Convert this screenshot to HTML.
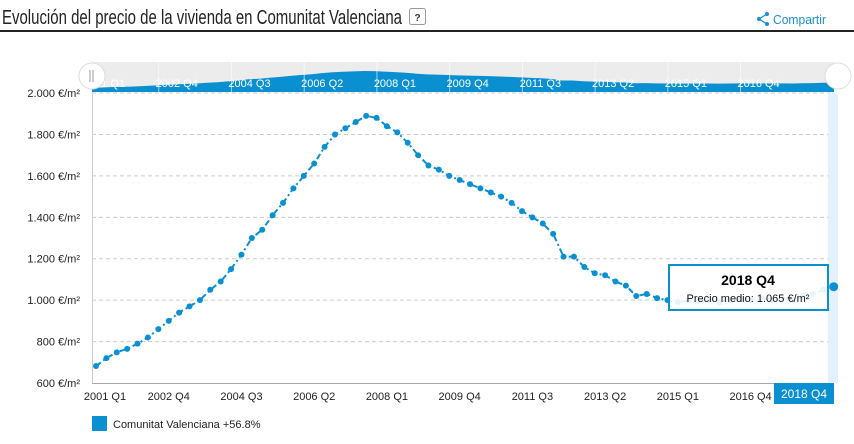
<!DOCTYPE html><html><head><meta charset="utf-8"><style>
body{margin:0;width:854px;height:439px;background:#fff;overflow:hidden;font-family:"Liberation Sans",sans-serif}
</style></head><body>
<svg width="854" height="439" xmlns="http://www.w3.org/2000/svg" id="s" font-family="Liberation Sans, sans-serif">
<text x="2" y="24" font-size="20" fill="#222" textLength="400" lengthAdjust="spacingAndGlyphs" font-family="Liberation Sans Narrow, Liberation Sans, sans-serif">Evolución del precio de la vivienda en Comunitat Valenciana</text>
<rect x="409.5" y="8.5" width="16" height="16" rx="2" fill="#fff" stroke="#999"/>
<text x="417.5" y="21" font-size="10" font-weight="bold" text-anchor="middle" fill="#333">?</text>
<g fill="#1a8fd0"><circle cx="759" cy="19" r="2"/><circle cx="767" cy="14" r="2"/><circle cx="767" cy="24" r="2"/></g>
<path d="M759 19L767 14M759 19L767 24" stroke="#1a8fd0" stroke-width="1.3"/>
<text x="773" y="24" font-size="13" fill="#1a8fd0" textLength="53" lengthAdjust="spacingAndGlyphs">Compartir</text>
<rect x="0" y="30" width="854" height="2" fill="#222"/>
<rect x="92" y="62" width="742" height="30" fill="#ececec"/>
<g id="grid"></g>
<rect x="828" y="93" width="10" height="290" fill="#e3f1fa"/>
<g id="nav"></g>
<g id="ser"></g>
<circle cx="92" cy="76" r="13" fill="#fff" stroke="#ddd"/><path d="M90 70v12M93 70v12" stroke="#999"/>
<circle cx="838" cy="76" r="13" fill="#fff" stroke="#ddd"/>
<rect x="774" y="383" width="60" height="21" fill="#0a8fd0"/>
<text x="804" y="398" font-size="12" fill="#fff" text-anchor="middle">2018 Q4</text>
<rect x="669" y="265" width="159" height="45" fill="#fff" fill-opacity="0.9" stroke="#0a8fd0" stroke-width="2"/>
<text x="748" y="285" font-size="14" font-weight="bold" text-anchor="middle" fill="#000">2018 Q4</text>
<text x="748" y="302" font-size="11" text-anchor="middle" fill="#111">Precio medio: 1.065 €/m²</text>
<rect x="92" y="416" width="15" height="15" fill="#0a8fd0"/>
<text x="113" y="428" font-size="11" fill="#222">Comunitat Valenciana  +56.8%</text>
</svg>
<script>
var v=[682,720,748,765,790,820,860,900,940,970,1000,1050,1090,1150,1220,1300,1340,1410,1470,1540,1600,1660,1740,1800,1830,1860,1890,1880,1840,1810,1760,1700,1650,1630,1600,1580,1560,1540,1520,1500,1470,1430,1400,1370,1320,1210,1210,1160,1130,1120,1090,1070,1020,1030,1010,1000,990,1000,995,1000,990,1000,1005,1000,1010,1000,1010,1000,1020,1030,1050,1065];
var ns="http://www.w3.org/2000/svg";
function X(i){return 96+i*737.7/71}function Y(a){return 383-(a-600)*0.2071}
function el(p,t,a,txt){var e=document.createElementNS(ns,t);for(var k in a)e.setAttribute(k,a[k]);if(txt)e.textContent=txt;document.getElementById(p).appendChild(e);return e}
for(var k=0;k<=7;k++){var val=600+k*200,y=Y(val);
 if(k>0)el('grid','line',{x1:92,x2:834,y1:y,y2:y,stroke:'#ccc','stroke-dasharray':'4,3'});
 el('grid','text',{x:80,y:y+4,'font-size':11,'text-anchor':'end',fill:'#222'},(val>=1000?Math.floor(val/1000)+'.'+String(val%1000).padStart(3,'0'):val)+' €/m²');}
el('grid','line',{x1:92,x2:834,y1:383.5,y2:383.5,stroke:'#aaa'});
el('grid','line',{x1:92.5,x2:92.5,y1:93,y2:383,stroke:'#ccc'});
var lab=['2001 Q1','2002 Q4','2004 Q3','2006 Q2','2008 Q1','2009 Q4','2011 Q3','2013 Q2','2015 Q1','2016 Q4'];
lab.forEach(function(t,j){var x=X(j*7)+(j==0?9:0);el('grid','text',{x:x,y:400,'font-size':11,'text-anchor':'middle',fill:'#222'},t);});
var d='M92 92';v.forEach(function(a,i){d+='L'+(92+i*742/71)+' '+(97.6-a*0.0141)});d+='L834 92Z';
el('nav','path',{d:d,fill:'#0a8fd0'});
lab.forEach(function(t,j){var x=X(j*7)+8;el('nav','line',{x1:x-18,x2:x-18,y1:62,y2:92,stroke:'#fff','stroke-opacity':0.6});el('nav','text',{x:x,y:87,'font-size':11,'text-anchor':'middle',fill:'#fff'},t);});
var p='';v.forEach(function(a,i){p+=(i?'L':'M')+X(i)+' '+Y(a)});
el('ser','path',{d:p,fill:'none',stroke:'#0a8fd0','stroke-width':2,'stroke-dasharray':'6,3,2,3'});
v.forEach(function(a,i){el('ser','circle',{cx:X(i),cy:Y(a),r:i==71?4.5:3,fill:'#0a8fd0'})});
</script>
</body></html>
